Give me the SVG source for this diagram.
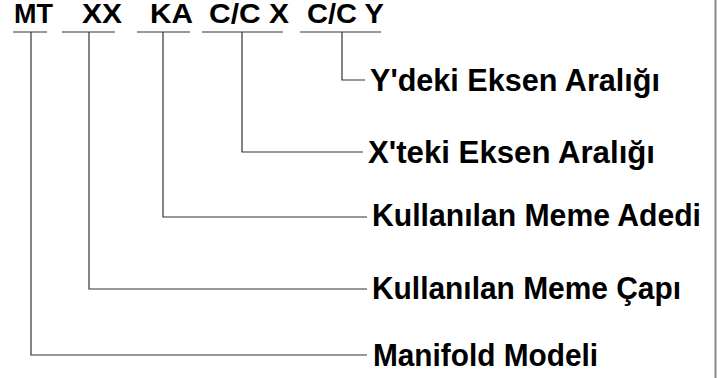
<svg xmlns="http://www.w3.org/2000/svg" width="725" height="378" viewBox="0 0 725 378">
<style>
.code{font-family:"Liberation Sans",Arial,sans-serif;font-weight:bold;font-size:27px;fill:#000}
.lbl{font-family:"Liberation Sans",Arial,sans-serif;font-weight:bold;font-size:31px;fill:#000}
.ul{stroke:#777;stroke-width:1.5;fill:none}
.ln{stroke:#333;stroke-width:1.2;fill:none}
</style>
<rect width="725" height="378" fill="#fff"/>
<line x1="715.5" y1="0" x2="715.5" y2="378" stroke="#888" stroke-width="2"/>
<g id="codes">
<g id="code-mt"><text class="code" x="14" y="23" textLength="39" lengthAdjust="spacingAndGlyphs">MT</text><line class="ul" x1="13" y1="32" x2="47" y2="32"/></g>
<g id="code-xx"><text class="code" x="82" y="23" textLength="40" lengthAdjust="spacingAndGlyphs">XX</text><line class="ul" x1="62" y1="32" x2="115" y2="32"/></g>
<g id="code-ka"><text class="code" x="150" y="23" textLength="43" lengthAdjust="spacingAndGlyphs">KA</text><line class="ul" x1="137" y1="32" x2="190" y2="32"/></g>
<g id="code-ccx"><text class="code" x="209" y="23" textLength="80" lengthAdjust="spacingAndGlyphs">C/C X</text><line class="ul" x1="202" y1="32" x2="283" y2="32"/></g>
<g id="code-ccy"><text class="code" x="307" y="23" textLength="77" lengthAdjust="spacingAndGlyphs">C/C Y</text><line class="ul" x1="300" y1="32" x2="381" y2="32"/></g>
</g>
<g id="labels">
<g id="lbl-y"><text class="lbl" x="370" y="91" textLength="290" lengthAdjust="spacingAndGlyphs">Y'deki Eksen Aralığı</text></g>
<g id="lbl-x"><text class="lbl" x="368" y="163" textLength="287" lengthAdjust="spacingAndGlyphs">X'teki Eksen Aralığı</text></g>
<g id="lbl-ka"><text class="lbl" x="372" y="226" textLength="329" lengthAdjust="spacingAndGlyphs">Kullanılan Meme Adedi</text></g>
<g id="lbl-xx"><text class="lbl" x="372" y="299" textLength="309" lengthAdjust="spacingAndGlyphs">Kullanılan Meme Çapı</text></g>
<g id="lbl-mt"><text class="lbl" x="373" y="366" textLength="225" lengthAdjust="spacingAndGlyphs">Manifold Modeli</text></g>
</g>
<g id="connectors">
<polyline class="ln" points="342,32 342,80 365,80"/>
<polyline class="ln" points="242,32 242,152 363,152"/>
<polyline class="ln" points="163,32 163,217 367,217"/>
<polyline class="ln" points="89,32 89,289 367,289"/>
<polyline class="ln" points="31,32 31,355 367,355"/>
</g>
</svg>
